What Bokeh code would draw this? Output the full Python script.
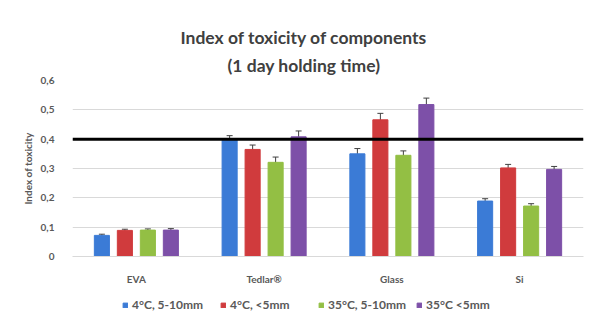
from bokeh.plotting import figure
from bokeh.layouts import column
from bokeh.models import (ColumnDataSource, FactorRange, Range1d, Whisker, Span,
                          Legend, LegendItem, FixedTicker, Title, Spacer)
from bokeh.transform import dodge
from bokeh.embed import file_html
from bokeh.resources import INLINE

categories = ["EVA", "Tedlar®", "Glass", "Si"]
series_names = ["4°C, 5-10mm", "4°C, <5mm", "35°C, 5-10mm", "35°C <5mm"]
s1 = [0.072, 0.400, 0.350, 0.189]
s2 = [0.089, 0.365, 0.466, 0.302]
s3 = [0.090, 0.321, 0.345, 0.172]
s4 = [0.090, 0.408, 0.518, 0.297]
e1 = [0.004, 0.012, 0.018, 0.008]
e2 = [0.004, 0.015, 0.022, 0.012]
e3 = [0.004, 0.018, 0.015, 0.008]
e4 = [0.005, 0.020, 0.022, 0.010]
threshold = 0.4
y_ticks = [0, 0.1, 0.2, 0.3, 0.4, 0.5, 0.6]
y_tick_labels = ["0", "0,1", "0,2", "0,3", "0,4", "0,5", "0,6"]
title_line1 = "Index of toxicity of components"
title_line2 = "(1 day holding time)"

colors = ["#3B7BD6", "#D03B3D", "#93BF44", "#7D50A8"]
offsets = [-0.27, -0.09, 0.09, 0.27]
text_color = "#595959"
font = "Lato"

p = figure(x_range=FactorRange(*categories, range_padding=0), y_range=Range1d(0, 0.6),
           width=590, height=279, output_backend="svg", toolbar_location=None,
           min_border_left=72, min_border_right=7, min_border_top=72, min_border_bottom=26)
p.outline_line_color = None

sources = []
for vals, errs, col, off in zip([s1, s2, s3, s4], [e1, e2, e3, e4], colors, offsets):
    src = ColumnDataSource(dict(cat=categories, v=vals,
                                up=[v + e for v, e in zip(vals, errs)],
                                lo=[v - e for v, e in zip(vals, errs)]))
    sources.append(src)
    p.vbar(x=dodge("cat", off, range=p.x_range), top="v", width=0.118, source=src,
           fill_color=col, line_color=col)
    w = Whisker(base=dodge("cat", off, range=p.x_range), upper="up", lower="lo", source=src,
                line_color="#404040", line_width=1)
    w.upper_head.size = 6
    w.lower_head.size = 6
    w.upper_head.line_color = "#404040"
    w.lower_head.line_color = "#404040"
    p.add_layout(w)

p.add_layout(Span(location=threshold, dimension="width", line_color="black", line_width=3))

p.yaxis.ticker = FixedTicker(ticks=y_ticks)
p.yaxis.major_label_overrides = {t: l for t, l in zip(y_ticks, y_tick_labels)}
p.yaxis.axis_line_color = None
p.yaxis.major_tick_line_color = None
p.yaxis.minor_tick_line_color = None
p.yaxis.major_label_text_font_size = "10px"
p.yaxis.major_label_text_font_style = "bold"
p.yaxis.major_label_text_color = text_color
p.yaxis.major_label_text_font = font
p.yaxis.major_label_standoff = 12
p.yaxis.axis_label = "Index of toxicity"
p.yaxis.axis_label_text_font_size = "10px"
p.yaxis.axis_label_text_font_style = "bold"
p.yaxis.axis_label_text_color = text_color
p.yaxis.axis_label_text_font = font
p.yaxis.axis_label_standoff = 4

p.xaxis.axis_line_color = "#D9D9D9"
p.xaxis.major_tick_line_color = None
p.xaxis.minor_tick_line_color = None
p.xaxis.major_label_text_font_size = "10px"
p.xaxis.major_label_text_font_style = "bold"
p.xaxis.major_label_text_color = text_color
p.xaxis.major_label_text_font = font
p.xaxis.major_label_standoff = 10

p.xgrid.grid_line_color = None
p.ygrid.grid_line_color = "#D9D9D9"

p.title.text = title_line1
p.title.align = "left"
p.title.offset = 108
p.title.text_font_size = "17.5px"
p.title.text_font = font
p.title.text_color = "#404040"
p.title.standoff = 0
p.add_layout(Title(text=title_line2, align="left", offset=155, text_font_size="17.5px",
                   text_font=font, text_color="#404040", standoff=10), "above")

# legend strip below the chart (its glyphs lie outside its visible range)
lg = figure(width=590, height=30, output_backend="svg", toolbar_location=None,
            x_range=FactorRange(*categories), y_range=Range1d(1, 2), min_border=0)
lg.axis.visible = False
lg.grid.grid_line_color = None
lg.outline_line_color = None
items = []
for src, col, name in zip(sources, colors, series_names):
    r = lg.vbar(x="cat", top="v", width=0.1, source=src, fill_color=col, line_color=col)
    items.append(LegendItem(label=name, renderers=[r]))
legend = Legend(items=items, orientation="horizontal", location=(50, 5),
                label_text_font_size="12px", label_text_color=text_color, label_text_font=font,
                label_text_font_style="bold", label_height=12, label_width=85, label_standoff=4,
                glyph_width=6, glyph_height=6, spacing=3, padding=0, margin=0,
                border_line_color=None, background_fill_alpha=0)
lg.add_layout(legend)

layout = column(Spacer(width=590, height=8), p, lg, spacing=0)
open("out.html", "w").write(file_html(layout, INLINE))
